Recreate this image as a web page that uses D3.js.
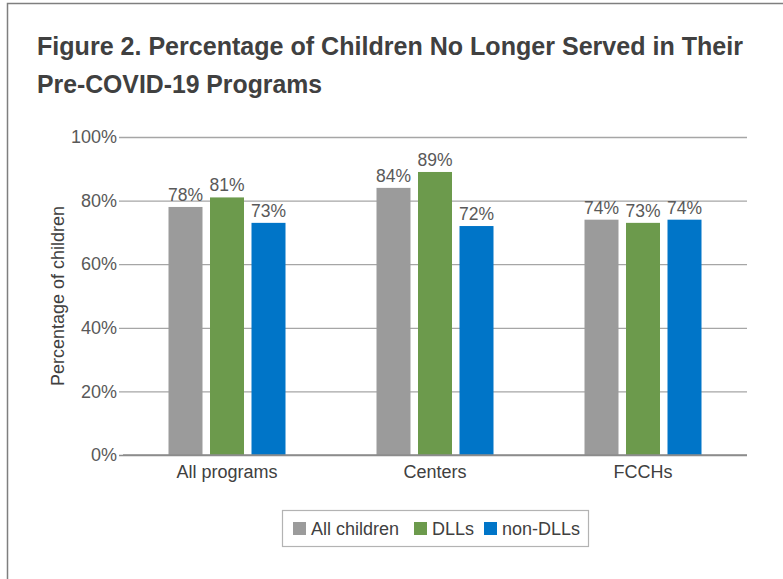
<!DOCTYPE html>
<html>
<head>
<meta charset="utf-8">
<script src="https://cdn.jsdelivr.net/npm/d3@7"></script>
<style>
  html, body { margin: 0; padding: 0; background: #fff; }
  svg { display: block; }
</style>
</head>
<body>
<svg id="chart" width="783" height="579"></svg>
<script>
// Chart data
const categories = ["All programs", "Centers", "FCCHs"];
const seriesNames = ["All children", "DLLs", "non-DLLs"];
const allChildren = [78, 84, 74];
const dlls = [81, 89, 73];
const nonDlls = [73, 72, 74];
const yTicks = [0, 20, 40, 60, 80, 100];
const colors = ["#9b9b9b", "#6c9a4c", "#0075c8"];

const seriesValues = [allChildren, dlls, nonDlls];
const rows = categories.map((c, i) => ({
  category: c,
  values: seriesNames.map((s, j) => ({ series: s, value: seriesValues[j][i], color: colors[j] }))
}));

const svg = d3.select("#chart");
const font = "'Liberation Sans', Arial, sans-serif";

// outer frame (top and left edges)
svg.append("path")
  .attr("d", "M7.5,579 L7.5,3.5 L783,3.5")
  .attr("fill", "none").attr("stroke", "#7f7f7f").attr("stroke-width", 1.5);

// title
const title = svg.append("g").attr("font-family", font)
  .attr("font-weight", "bold").attr("font-size", 26).attr("fill", "#404040");
title.append("text").attr("x", 37).attr("y", 55)
  .attr("textLength", 706).attr("lengthAdjust", "spacingAndGlyphs")
  .text("Figure 2. Percentage of Children No Longer Served in Their");
title.append("text").attr("x", 37).attr("y", 93)
  .attr("textLength", 285).attr("lengthAdjust", "spacingAndGlyphs")
  .text("Pre-COVID-19 Programs");

const margin = { left: 123, right: 747, top: 137, bottom: 455 };

const x0 = d3.scaleBand().domain(categories).range([margin.left, margin.right]).paddingInner(0).paddingOuter(0);
const y = d3.scaleLinear().domain([0, 100]).range([margin.bottom, margin.top]);
const barW = 34, gap = 7.5;
const x1 = d3.scaleBand().domain(seriesNames)
  .range([-(barW * 1.5 + gap), barW * 1.5 + gap]).paddingInner(gap / (barW + gap)).paddingOuter(0);

// gridlines + y axis
const yAxis = d3.axisLeft(y).tickValues(yTicks).tickSize(-(margin.right - margin.left))
  .tickPadding(6).tickFormat(d => d + "%");
const gy = svg.append("g").attr("transform", `translate(${margin.left},0)`).call(yAxis);
gy.select(".domain").remove();
gy.selectAll(".tick line").attr("stroke", "#a6a6a6").attr("stroke-width", 1.3)
  .attr("x1", -4);
gy.selectAll(".tick line").filter(d => d === 0).attr("stroke", "#8c8c8c");
gy.selectAll(".tick text").attr("font-family", font).attr("font-size", 18)
  .attr("fill", "#595959").attr("x", -6);

// bars
const groups = svg.append("g").selectAll("g").data(rows).join("g")
  .attr("transform", d => `translate(${x0(d.category) + x0.bandwidth() / 2},0)`);
groups.selectAll("rect").data(d => d.values).join("rect")
  .attr("x", d => x1(d.series)).attr("width", x1.bandwidth())
  .attr("y", d => y(d.value)).attr("height", d => y(0) - y(d.value))
  .attr("fill", d => d.color);
groups.selectAll("text").data(d => d.values).join("text")
  .attr("x", d => x1(d.series) + x1.bandwidth() / 2)
  .attr("y", d => y(d.value) - 6)
  .attr("text-anchor", "middle").attr("font-family", font).attr("font-size", 17.5)
  .attr("fill", "#595959").text(d => d.value + "%");

// baseline redrawn above bars
svg.append("line").attr("x1", margin.left).attr("x2", margin.right)
  .attr("y1", y(0)).attr("y2", y(0)).attr("stroke", "#8c8c8c").attr("stroke-width", 1.3);

// x axis labels
const xAxis = d3.axisBottom(x0).tickSize(0).tickPadding(10);
const gx = svg.append("g").attr("transform", `translate(0,${margin.bottom})`).call(xAxis);
gx.select(".domain").remove();
gx.selectAll(".tick text").attr("font-family", font).attr("font-size", 18).attr("fill", "#404040");

// y axis title
svg.append("text").attr("transform", "translate(64,296) rotate(-90)")
  .attr("text-anchor", "middle").attr("font-family", font).attr("font-size", 18)
  .attr("fill", "#404040").text("Percentage of children");

// legend
const legend = svg.append("g");
legend.append("rect").attr("x", 282.5).attr("y", 510.5).attr("width", 306).attr("height", 36)
  .attr("fill", "#fff").attr("stroke", "#b3b3b3").attr("stroke-width", 1.2);
const legendX = [293, 414, 484];
const li = legend.selectAll("g.item").data(seriesNames).join("g").attr("class", "item")
  .attr("transform", (d, i) => `translate(${legendX[i]},522)`);
li.append("rect").attr("width", 13).attr("height", 13).attr("fill", (d, i) => colors[i]);
li.append("text").attr("x", 18).attr("y", 13).attr("font-family", font).attr("font-size", 18)
  .attr("fill", "#404040").text(d => d);
</script>
</body>
</html>
